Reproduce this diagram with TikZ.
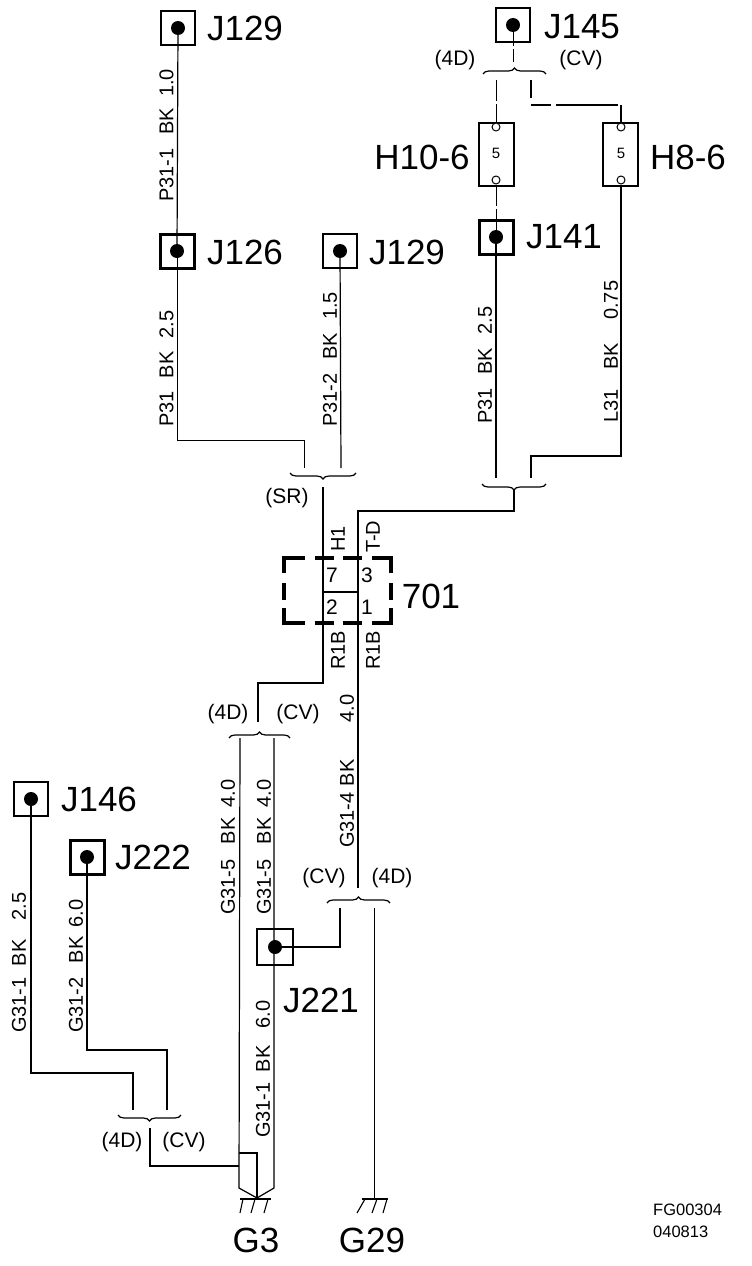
\documentclass[tikz,border=0pt]{standalone}
\usepackage{fontspec}
\setmainfont{Liberation Sans}
\usetikzlibrary{decorations.pathreplacing}
\tikzset{
    wire/.style={line width=1.2pt},
    thinwire/.style={line width=0.9pt},
    brokenwire/.style={line width=0.9pt,dash pattern=on 21pt off 3pt},
    termbox/.style={draw,line width=2pt,minimum size=34pt,inner sep=0pt},
    heavybox/.style={termbox,line width=3pt},
    fusebox/.style={draw,line width=1.2pt,minimum width=35pt,minimum height=63pt,inner sep=0pt},
    pin/.style={draw,fill=white,circle,line width=1pt,minimum size=8pt,inner sep=0pt},
    bigtxt/.style={inner sep=0pt,font=\fontsize{35}{37}\selectfont},
    midtxt/.style={inner sep=0pt,font=\fontsize{21}{23}\selectfont},
    wiretxt/.style={inner sep=0pt,rotate=90,anchor=west,font=\fontsize{20}{22}\selectfont},
    smalltxt/.style={inner sep=0pt,anchor=west,font=\fontsize{16.5}{18}\selectfont},
    splice/.style={line width=1.2pt,decorate,decoration={brace,amplitude=6pt}},
    splicedown/.style={line width=1.2pt,decorate,decoration={brace,mirror,amplitude=6pt}},
    dashbox/.style={line width=4pt},
    earth/.style={line width=1.1pt},
}
\begin{document}
\begin{tikzpicture}[x=1pt,y=-1pt]
    \useasboundingbox (0,0) rectangle (752,1266);
    % terminals
    \node[termbox] (J129a) at (178,28) {};
    \node[heavybox] (J126) at (177,251) {};
    \node[termbox] (J129b) at (340,251) {};
    \node[heavybox,line width=2.5pt] (J145) at (513,25) {};
    \node[heavybox] (J141) at (496,237) {};
    \node[termbox] (J146) at (31,799) {};
    \node[heavybox] (J222) at (87,857) {};
    \node[termbox,line width=1.6pt,minimum size=36pt] (J221) at (275,947) {};
    \node[fusebox] (H10) at (496.5,154.5) {};
    \node[fusebox] (H8) at (620.5,154.5) {};
    \node[pin] (H10t) at (496,127) {};
    \node[pin] (H10b) at (496,180) {};
    \node[pin] (H8t) at (621,127) {};
    \node[pin] (H8b) at (621,180) {};
    % points on the wires
    \coordinate (a1) at (304,468);
    \coordinate (a2) at (341,468);
    \coordinate (a3) at (323,487);
    \coordinate (a4) at (258,722);
    \coordinate (b1) at (496,478);
    \coordinate (b2) at (531,478);
    \coordinate (b3) at (514,490);
    \coordinate (b4) at (358,888);
    \coordinate (c1) at (513,62);
    \coordinate (c2) at (496,80);
    \coordinate (c3) at (531,80);
    \coordinate (c4) at (531,105);
    \coordinate (d1) at (240,738);
    \coordinate (d2) at (274,738);
    \coordinate (e1) at (340,908);
    \coordinate (e2) at (374,908);
    \coordinate (f1) at (133,1110);
    \coordinate (f2) at (167,1110);
    \coordinate (f3) at (150,1128);
    \coordinate (g3) at (257,1198);
    \coordinate (g29) at (374,1199);
    % wires
    \draw[wire] (J129a.center) -- (J126.center);
    \draw[thinwire] (J126.center) |- (304,440) -- (a1);
    \draw[wire] (J129b.center) -- (a2);
    \draw[wire] (a3) -- (323,683) -| (a4);
    \draw[wire] (b4) -- (358,511) -| (b3);
    \draw[brokenwire] (J145.center) -- (c1);
    \draw[brokenwire] (c2) -- (H10t);
    \draw[line width=1.8pt] (c3) -- (531,98);
    \draw[line width=2pt,dash pattern=on 20pt off 5pt on 62pt off 3pt] (c4) -- (621,105);
    \draw[wire] (621,105) -- (H8t);
    \draw[brokenwire] (H10b) -- (J141.center);
    \draw[wire] (J141.center) -- (b1);
    \draw[wire] (H8b) |- (531,456) -- (b2);
    \draw[wire] (d1) -- (239,1188) -- (g3);
    \draw[wire] (d2) -- (274,1188) -- (g3);
    \draw[wire] (239,1153) -- (257,1153) -- (g3);
    \draw[wire] (J221.center) -| (e1);
    \draw[thinwire] (e2) -- (g29);
    \draw[wire] (J146.center) |- (133,1073) -- (f1);
    \draw[wire] (J222.center) |- (167,1050) -- (f2);
    \draw[wire] (f3) |- (239,1166);
    % terminal dots
    \foreach \t in {J129a,J126,J129b,J145,J141,J146,J222,J221}
        \fill (\t.center) circle (7pt);
    % splices
    \draw[splicedown] (290,473) -- (356,473);
    \draw[splicedown] (482,484) -- (546,484);
    \draw[splice] (483,74) -- (546,74);
    \draw[splice] (229,738) -- (290,738);
    \draw[splice] (327,903) -- (390,903);
    \draw[splicedown] (118,1115) -- (181,1115);
    % connector 701
    \draw[wire] (323,592) -- (358,592);
    \draw[dashbox] (305,558) -- (284,558) -- (284,573);
    \draw[dashbox] (372,558) -- (391,558) -- (391,573);
    \draw[dashbox] (305,623) -- (284,623) -- (284,608);
    \draw[dashbox] (372,623) -- (391,623) -- (391,608);
    \foreach \x in {284,391} \draw[dashbox] (\x,583) -- (\x,600);
    \foreach \y in {558,623} {
        \draw[dashbox] (315,\y) -- (334,\y);
        \draw[dashbox] (343,\y) -- (362,\y);
    }
    % earths
    \draw[line width=2.4pt] (240,1199) -- (271,1199);
    \draw[line width=2.4pt] (362,1199) -- (388,1199);
    \draw[earth] (243,1199) -- (240,1213);
    \draw[earth] (255,1199) -- (251,1213);
    \draw[earth] (268,1199) -- (264,1213);
    \draw[earth] (365,1199) -- (357,1213);
    \draw[earth] (377,1199) -- (372,1213);
    \draw[earth] (387,1199) -- (383,1213);
    % names
    \node[bigtxt] (tJ129a) at (245,28) {J129};
    \node[bigtxt] (tJ126) at (245,252) {J126};
    \node[bigtxt] (tJ129b) at (407,252) {J129};
    \node[bigtxt] (tJ145) at (582,27) {J145};
    \node[bigtxt] (tJ141) at (564,237) {J141};
    \node[bigtxt] (tJ146) at (99,799) {J146};
    \node[bigtxt] (tJ222) at (153,857) {J222};
    \node[bigtxt] (tJ221) at (321,1000) {J221};
    \node[bigtxt] (tH10) at (422,157) {H10-6};
    \node[bigtxt] (tH8) at (688,157) {H8-6};
    \node[bigtxt] (t701) at (431,596) {701};
    \node[bigtxt] (tG3) at (256,1240) {G3};
    \node[bigtxt] (tG29) at (372,1240) {G29};
    % wire labels
    \node[wiretxt] (w1) at (166.5,202) {P31-1\hspace{14pt}BK\hspace{11pt}1.0};
    \node[wiretxt] (w2) at (166.5,427) {P31\hspace{13pt}BK\hspace{13pt}2.5};
    \node[wiretxt] (w3) at (330,427) {P31-2\hspace{14pt}BK\hspace{13pt}1.5};
    \node[wiretxt] (w4) at (485,424) {P31\hspace{13.5pt}BK\hspace{13.5pt}2.5};
    \node[wiretxt] (w5) at (611,423) {L31\hspace{20pt}BK\hspace{23pt}0.75};
    \node[wiretxt] (w6) at (347,848) {G31-4\hspace{6pt}BK\hspace{37pt}4.0};
    \node[wiretxt] (w7) at (228,915) {G31-5\hspace{15pt}BK\hspace{10pt}4.0};
    \node[wiretxt] (w8) at (264,915) {G31-5\hspace{15pt}BK\hspace{10pt}4.0};
    \node[wiretxt] (w9) at (263,1138) {G31-1\hspace{10pt}BK\hspace{17pt}6.0};
    \node[wiretxt] (w10) at (19,1033) {G31-1\hspace{11pt}BK\hspace{19pt}2.5};
    \node[wiretxt] (w11) at (76,1033) {G31-2\hspace{14pt}BK\hspace{9pt}6.0};
    \node[wiretxt] (w12) at (338,552) {H1};
    \node[wiretxt] (w13) at (373,553) {T-D};
    \node[wiretxt] (w14) at (338,670) {R1B};
    \node[wiretxt] (w15) at (373,670) {R1B};
    % pins and variants
    \node[midtxt] (p7) at (332,575) {7};
    \node[midtxt] (p3) at (367,575) {3};
    \node[midtxt] (p2) at (332,607) {2};
    \node[midtxt] (p1) at (367,607) {1};
    \node[inner sep=0pt,font=\fontsize{15}{17}\selectfont] (f5a) at (496,153) {5};
    \node[inner sep=0pt,font=\fontsize{15}{17}\selectfont] (f5b) at (621,153) {5};
    \node[midtxt] (v1) at (455,60) {(4D)};
    \node[midtxt] (v2) at (581,60) {(CV)};
    \node[midtxt] (v3) at (287,498) {(SR)};
    \node[midtxt] (v4) at (228,714) {(4D)};
    \node[midtxt] (v5) at (298,714) {(CV)};
    \node[midtxt] (v6) at (324,878) {(CV)};
    \node[midtxt] (v7) at (392,878) {(4D)};
    \node[midtxt] (v8) at (122,1142) {(4D)};
    \node[midtxt] (v9) at (184,1142) {(CV)};
    % drawing number
    \node[smalltxt] (fg) at (653,1210) {FG00304};
    \node[smalltxt] (dt) at (653,1232) {040813};
\end{tikzpicture}
\end{document}
